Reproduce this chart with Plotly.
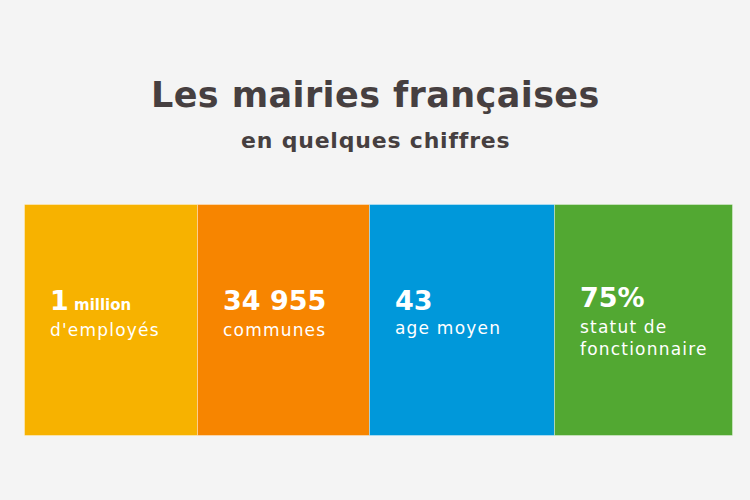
import plotly.graph_objects as go

# Data
values = ["1", "34 955", "43", "75%"]
value_suffix = [" million", "", "", ""]
labels = ["d'employés", "communes", "age moyen", "statut de<br>fonctionnaire"]
colors = ["#F7B200", "#F78500", "#0098DA", "#52A832"]
title = "Les mairies françaises"
subtitle = "en quelques chiffres"

# Layout (pixel geometry)
W, H = 750, 500
edges = [25, 198, 370, 555, 733]
box_top, box_bottom = 205, 436
text_x_offset = 23
value_y = [300, 300, 300, 297]
label_y = [330, 330, 328, 338]

centers = [(edges[i] + edges[i + 1]) / 2 for i in range(4)]
widths = [edges[i + 1] - edges[i] for i in range(4)]

fig = go.Figure()
fig.add_trace(go.Bar(
    x=centers, y=[box_bottom - box_top] * 4, base=[box_top] * 4,
    width=widths, marker=dict(color=colors, line=dict(color="rgba(255,255,255,0.35)", width=1)),
    hoverinfo="skip", showlegend=False,
))

def spaced(s, px):
    return "<span style='letter-spacing:%spx'>%s</span>" % (px, s)

annotations = []
annotations.append(dict(x=W / 2, y=95, text="<b>" + spaced(title, 0.4) + "</b>", showarrow=False,
                        font=dict(family="DejaVu Sans", size=35, color="#463F40"),
                        xanchor="center", yanchor="middle"))
annotations.append(dict(x=W / 2, y=140, text="<b>" + spaced(subtitle, 0.8) + "</b>", showarrow=False,
                        font=dict(family="DejaVu Sans", size=22, color="#463F40"),
                        xanchor="center", yanchor="middle"))
for i in range(4):
    x0 = edges[i] + text_x_offset
    txt = "<b>" + values[i] + "</b>"
    if value_suffix[i]:
        txt += "<b><span style='font-size:15px'>" + value_suffix[i] + "</span></b>"
    annotations.append(dict(x=x0, y=value_y[i], text=txt, showarrow=False,
                            font=dict(family="DejaVu Sans", size=27, color="white"),
                            xanchor="left", yanchor="middle", align="left"))
    lab = "<br>".join(spaced(part, 1.2) for part in labels[i].split("<br>"))
    annotations.append(dict(x=x0, y=label_y[i], text=lab, showarrow=False,
                            font=dict(family="DejaVu Sans", size=17, color="white"),
                            xanchor="left", yanchor="middle", align="left"))

fig.update_layout(
    width=W, height=H, margin=dict(l=0, r=0, t=0, b=0),
    paper_bgcolor="#F4F4F4", plot_bgcolor="#F4F4F4",
    xaxis=dict(range=[0, W], visible=False, fixedrange=True),
    yaxis=dict(range=[H, 0], visible=False, fixedrange=True),
    annotations=annotations, bargap=0,
)
fig.write_html(
    "out.html",
    config={"displayModeBar": False},
    post_script="document.body.style.margin='0';document.body.style.background='#F4F4F4';",
)
